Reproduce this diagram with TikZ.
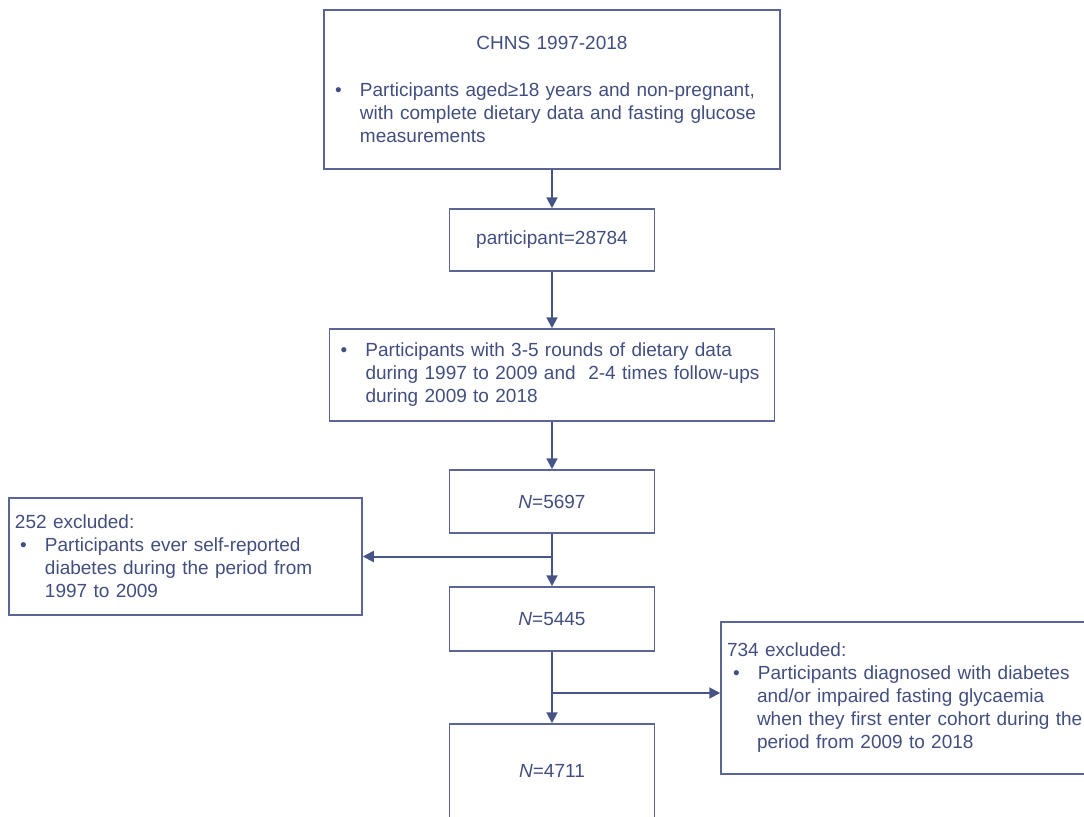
\documentclass[tikz,border=0pt]{standalone}
\usepackage{fontspec}
\setmainfont{Liberation Sans}
\usetikzlibrary{arrows.meta}

\definecolor{flowtext}{RGB}{66,78,126}
\definecolor{flowline}{RGB}{92,102,150}
\definecolor{flowarr}{RGB}{72,84,134}

\newcommand{\bul}{\makebox[12.5pt][l]{\textbullet}}
\newcommand{\ind}{\hspace*{12.5pt}}

\tikzset{
  flowbox/.style={draw=flowline, line width=0.75pt, text=flowtext,
    inner xsep=5.5pt, inner ysep=0pt, align=left,
    font=\fontsize{9.5}{11.5}\selectfont},
  numbox/.style={flowbox, align=center, minimum width=102.5pt},
  flowarrow/.style={draw=flowarr, line width=1pt,
    -{Triangle[width=5.5pt,length=5.5pt]}}
}

\begin{document}
\begin{tikzpicture}[x=0.5pt,y=-0.5pt]
\useasboundingbox (0,0) rectangle (1084,816);
\clip (0,0) rectangle (1084,816);

\node[flowbox, minimum width=228pt, minimum height=79.5pt, text width=217pt] (chns) at (552,89.5)
  {{\centering CHNS 1997-2018\par}\vspace{12pt}
   \bul Participants aged≥18 years and non-pregnant,\\
   \ind with complete dietary data and fasting glucose\\
   \ind measurements};

\node[numbox, minimum height=31pt] (part) at (552,240) {participant=28784};

\node[flowbox, minimum width=222.5pt, minimum height=46pt, text width=211.5pt] (rounds) at (552,375)
  {\bul Participants with 3-5 rounds of dietary data\\
   \ind\mbox{during 1997 to 2009 and\ \ 2-4 times follow-ups}\\
   \ind during 2009 to 2018};

\node[numbox, minimum height=31.5pt] (n5697) at (552,501.5) {\textit{N}=5697};

\node[flowbox, inner xsep=3pt, minimum width=176.5pt, minimum height=58.5pt, text width=170.5pt] (excl1) at (185.5,556.5)
  {252 excluded:\\
   \hspace*{2.5pt}\bul Participants ever self-reported\\
   \hspace*{15pt}diabetes during the period from\\
   \hspace*{15pt}1997 to 2009};

\node[numbox, minimum height=32pt] (n5445) at (552,619) {\textit{N}=5445};

\node[flowbox, inner xsep=3pt, minimum width=189.5pt, minimum height=76pt, text width=183.5pt] (excl2) at (910.5,698)
  {734 excluded:\\
   \hspace*{3pt}\bul Participants diagnosed with diabetes\\
   \hspace*{15pt}and/or impaired fasting glycaemia\\
   \hspace*{15pt}\mbox{when they first enter cohort during the}\\
   \hspace*{15pt}period from 2009 to 2018\\[5pt]};

\node[numbox, minimum height=47pt] (n4711) at (552,771) {\textit{N}=4711};

% main flow
\draw[flowarrow] (chns) -- (part);
\draw[flowarrow] (part) -- (rounds);
\draw[flowarrow] (rounds) -- (n5697);
\draw[flowarrow] (n5697) -- (n5445);
\draw[flowarrow] (n5445) -- (n4711);

% exclusions
\coordinate (split1) at (n5697.south |- excl1.east);
\draw[flowarrow] (split1) -- (excl1.east);
\coordinate (split2) at (552,693);
\draw[flowarrow] (split2) -- (split2 -| excl2.west);
\end{tikzpicture}
\end{document}
